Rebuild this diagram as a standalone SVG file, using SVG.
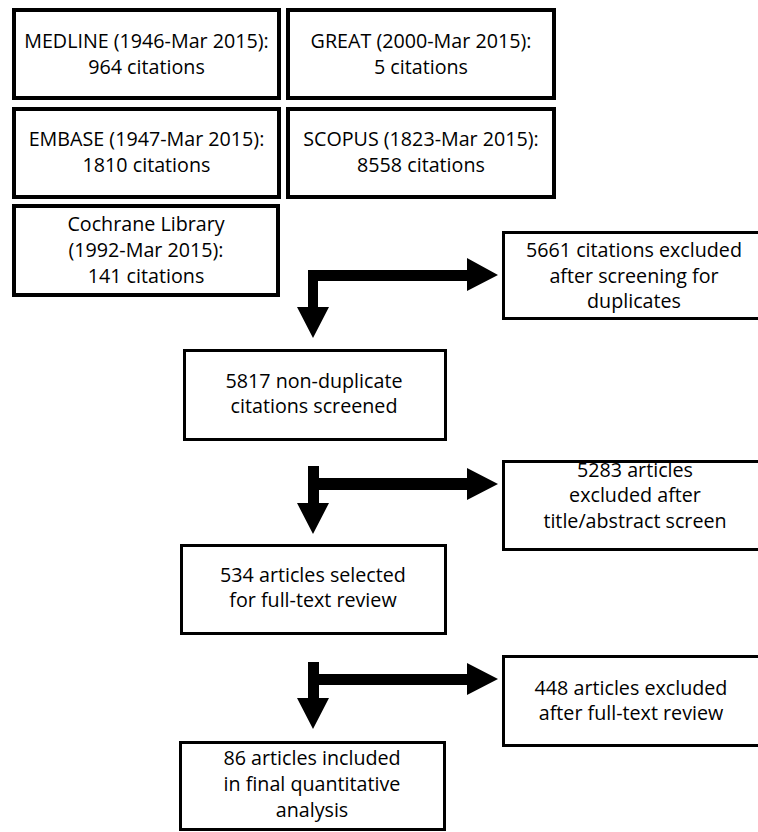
<svg xmlns="http://www.w3.org/2000/svg" width="758" height="832" viewBox="0 0 758 832">
<style>
.box{fill:#fff;stroke:#000;stroke-width:3}
.top{stroke-width:4}
text{font-family:"Open Sans","Noto Sans","Liberation Sans",sans-serif;font-size:19.7px;fill:#000;text-anchor:middle}
.arr{fill:#000}
</style>
<rect width="758" height="832" fill="#fff"/>
<g id="medline"><rect class="box top" x="14" y="10" width="265" height="88"/><text x="146.5" y="48">MEDLINE (1946-Mar 2015):</text><text x="146.5" y="74">964 citations</text></g>
<g id="great"><rect class="box top" x="288" y="10" width="266" height="88"/><text x="421" y="48">GREAT (2000-Mar 2015):</text><text x="421" y="74">5 citations</text></g>
<g id="embase"><rect class="box top" x="14" y="109" width="265" height="88"/><text x="146.5" y="146">EMBASE (1947-Mar 2015):</text><text x="146.5" y="172">1810 citations</text></g>
<g id="scopus"><rect class="box top" x="288" y="109" width="266" height="88"/><text x="421" y="146">SCOPUS (1823-Mar 2015):</text><text x="421" y="172">8558 citations</text></g>
<g id="cochrane"><rect class="box top" x="14" y="206" width="264" height="89"/><text x="146" y="231">Cochrane Library</text><text x="146" y="257">(1992-Mar 2015):</text><text x="146" y="283">141 citations</text></g>
<g id="excl1"><rect class="box" x="503.5" y="232.5" width="290" height="86"/><text x="634" y="257">5661 citations excluded</text><text x="634" y="283">after screening for</text><text x="634" y="308">duplicates</text></g>
<g id="screened"><rect class="box" x="184.5" y="350.5" width="261" height="89"/><text x="314" y="388">5817 non-duplicate</text><text x="314" y="413">citations screened</text></g>
<g id="excl2"><rect class="box" x="503.5" y="461.5" width="290" height="88"/><text x="635" y="477">5283 articles</text><text x="635" y="502">excluded after</text><text x="635" y="528">title/abstract screen</text></g>
<g id="fulltext"><rect class="box" x="181.5" y="545.5" width="264" height="88"/><text x="313" y="582">534 articles selected</text><text x="313" y="607">for full-text review</text></g>
<g id="excl3"><rect class="box" x="503.5" y="656.5" width="290" height="89"/><text x="631" y="695">448 articles excluded</text><text x="631" y="720">after full-text review</text></g>
<g id="included"><rect class="box" x="180.5" y="742.5" width="264" height="87"/><text x="312" y="765">86 articles included</text><text x="312" y="791">in final quantitative</text><text x="312" y="817">analysis</text></g>
<g id="connectors">
<polygon class="arr" points="308,270 467,270 467,258 498,275 467,291 467,281 318,281 318,307 329,307 313,338 297,307 308,307"/>
<polygon class="arr" points="308,466 319,466 319,478 467,478 467,468 498,484 467,500 467,490 319,490 319,503 329,503 313,534 297,503 308,503"/>
<polygon class="arr" points="308,662 319,662 319,674 467,674 467,663 498,679 467,695 467,685 319,685 319,698 329,698 313,729 297,698 308,698"/>
</g>
</svg>
